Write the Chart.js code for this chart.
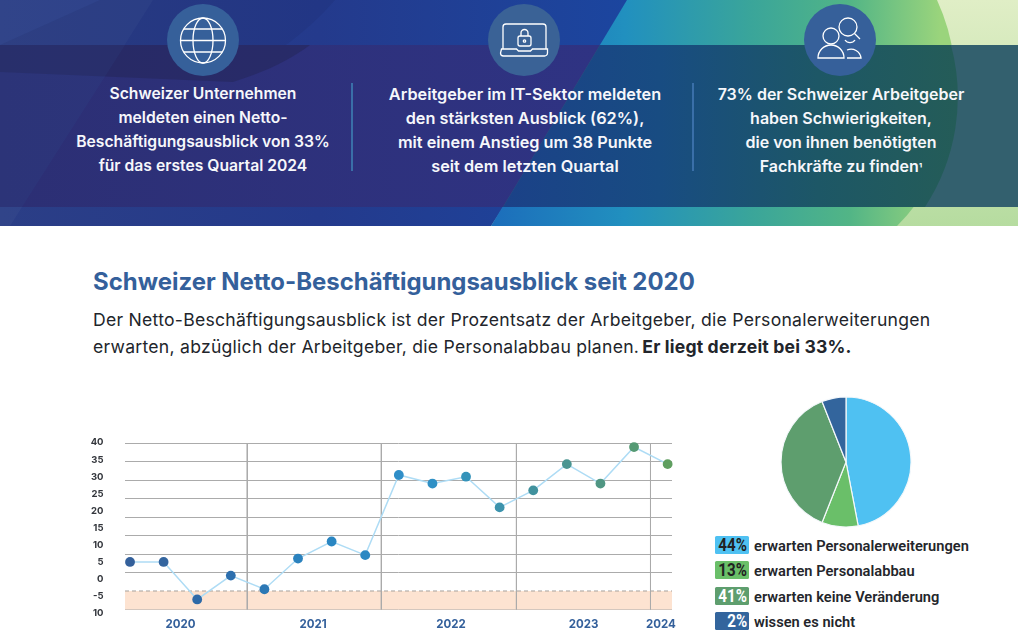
<!DOCTYPE html>
<html lang="de"><head><meta charset="utf-8">
<script src="https://cdn.jsdelivr.net/npm/chart.js@4"></script>
<style>
html,body{margin:0;padding:0;background:#fff;overflow:hidden}
body{width:1018px;height:637px;position:relative;font-family:Inter,sans-serif}
.abs{position:absolute}
#hdr{left:0;top:0}
.h{position:absolute;top:81.5px;width:320px;text-align:center;color:#f6f7fb;font:600 16px/24px Inter;white-space:nowrap}
.sep{position:absolute;top:83px;width:2px;height:88px;background:#3a6fa8}
#title{left:93px;top:267px;font:700 23.95px/30px Inter;color:#34609b;white-space:nowrap}
#body{left:93px;top:307px;font:400 17.6px/26.5px Inter;color:#22252b;white-space:nowrap;letter-spacing:.255px}
#body b{font-weight:700;letter-spacing:.17px;margin-left:-2px}
.badge{position:absolute;left:715px;width:34px;height:18px;border-radius:1.5px}
.badge span{position:absolute;right:2px;top:-1px;font:700 18.5px/20px Roboto;transform:scaleX(.82);transform-origin:right center}
.lt{position:absolute;left:754px;font:600 14.65px/18px Roboto;color:#24262b;white-space:nowrap;margin-top:1px}
</style></head><body>
<svg id="hdr" class="abs" width="1018" height="226" viewBox="0 0 1018 226">
<defs>
<linearGradient id="gBlue" x1="0" x2="1"><stop offset="0" stop-color="#2b3e86"/><stop offset=".5" stop-color="#243a8c"/><stop offset="1" stop-color="#1b46a0"/></linearGradient>
<linearGradient id="gTeal" gradientUnits="userSpaceOnUse" x1="490" x2="940" y1="0" y2="0"><stop offset="0" stop-color="#1c6dbb"/><stop offset=".3" stop-color="#2190bf"/><stop offset=".58" stop-color="#3aa59a"/><stop offset=".8" stop-color="#52b586"/><stop offset="1" stop-color="#9ad47c"/></linearGradient>
<linearGradient id="gPale" x1="0" x2="0" y1="0" y2="1"><stop offset="0" stop-color="#e0eec6"/><stop offset="1" stop-color="#b6dca0"/></linearGradient>
<linearGradient id="gBandL" x1="0" x2="1"><stop offset="0" stop-color="#2c2f74"/><stop offset="1" stop-color="#2f3383"/></linearGradient>
<linearGradient id="gBandR" gradientUnits="userSpaceOnUse" x1="500" x2="955" y1="0" y2="0"><stop offset="0" stop-color="#1b4188"/><stop offset=".35" stop-color="#184c82"/><stop offset=".7" stop-color="#1d5766"/><stop offset="1" stop-color="#245c58"/></linearGradient>
</defs>
<rect width="1018" height="226" fill="url(#gPale)"/>
<path d="M640 0H0V226H491Z" fill="url(#gBlue)"/>
<path d="M627 0L491 226H897A201 201 0 0 0 937 0Z" fill="url(#gTeal)"/>
<path d="M153 0L10 226H0V0Z" fill="#fff" opacity=".03"/>
<path d="M335 0C300 40 265 60 233 76L0 72V45L100 0Z" fill="#1a1f50" opacity=".12"/>
<rect y="45" width="1018" height="162" fill="#33606e"/>
<path d="M600 45L503 207H0V45Z" fill="url(#gBandL)"/>
<path d="M600 45L503 207H925A201 201 0 0 0 951 45Z" fill="url(#gBandR)"/>
<path d="M0 45H310C290 60 265 72 233 82L0 72Z" fill="#252659" opacity=".55"/>
<path d="M125 45L22 207H0V45Z" fill="#2f5aa0" opacity=".12"/>
<circle cx="203" cy="40" r="36" fill="#36609a"/><circle cx="524" cy="40" r="36" fill="#3a6296"/><circle cx="840" cy="40" r="36" fill="#36609a"/>
<g fill="none" stroke="#fff" stroke-width="1.3">
<circle cx="203" cy="40.500" r="22.500"/><ellipse cx="203" cy="40.500" rx="10" ry="22.500"/><path d="M180 40.500H226M184 29H222M184 52H222"/>
<path d="M503 49V27a3 3 0 0 1 3-3h37a3 3 0 0 1 3 3v22M501.500 49h15l2 2h12l2-2h15v4a3 3 0 0 1-3 3h-41a3 3 0 0 1-3-3Z"/>
<rect x="518" y="36" width="13" height="10" rx="2"/><path d="M521 36v-3a3.500 3.500 0 0 1 7 0v3"/><circle cx="524.500" cy="41" r="1.200"/>
<circle cx="831" cy="36" r="8"/><path d="M818 58a13 13 0 0 1 26 0Z"/>
<circle cx="848" cy="27" r="9"/><path d="M854.500 33.500L860 39M845 40a6 6 0 0 0 10 0M847 58h14a10 10 0 0 0-14-8"/>
</g>
</svg>
<div class="sep" style="left:351px"></div><div class="sep" style="left:692px"></div>
<div class="h" style="left:43px;font-size:15.7px">Schweizer Unternehmen<br>meldeten einen Netto-<br>Beschäftigungsausblick von 33%<br>für das erstes Quartal 2024</div>
<div class="h" style="left:365px;font-size:16.3px">Arbeitgeber im IT-Sektor meldeten<br>den stärksten Ausblick (62%),<br>mit einem Anstieg um 38 Punkte<br>seit dem letzten Quartal</div>
<div class="h" style="left:681px">73% der Schweizer Arbeitgeber<br>haben Schwierigkeiten,<br>die von ihnen benötigten<br>Fachkräfte zu finden<span style="font-size:11px">¹</span></div>
<div id="title" class="abs">Schweizer Netto-Beschäftigungsausblick seit 2020</div>
<div id="body" class="abs">Der Netto-Beschäftigungsausblick ist der Prozentsatz der Arbeitgeber, die Personalerweiterungen<br>erwarten, abzüglich der Arbeitgeber, die Personalabbau planen. <b>Er liegt derzeit bei 33%.</b></div>
<canvas id="line" class="abs" width="620" height="207" style="left:80px;top:430px"></canvas>
<canvas id="pie" class="abs" width="134" height="134" style="left:779px;top:395px"></canvas>
<div id="legend"></div>
<script>
const outlook = [5,5,-6,1,-3,6,11,7,30.5,28,30,21,26,33.7,28,38.7,33.7];
const pointColors = ['#34609b','#33659f','#2e6aa8','#2d6fae','#2c78b5','#2b82be','#2a86c2','#2b88c3','#2f8ec8','#2f90c5','#3593ba','#3c93ad','#41929e','#4a9591','#509683','#559a74','#5f9f60'];
const yTickValues = [40,35,30,25,20,15,10,5,0,-5,-10];
const yTickLabels = ['40','35','30','25','20','15','10','5','0','-5','10'];
const gridValues = [40,35,30,25,20,15,10,5,-5];
const yearPositions = [1.5,5.45,9.55,13.5,15.8];
const yearLabels = ['2020','2021','2022','2023','2024'];
const yearBoundaries = [3.49,7.48,11.5,15.49];
const pieValues = [47,9,38,6];
const pieColors = ['#4fc1f2','#6abf69','#5e9e6e','#33659d'];
const legendPercents = ['44%','13%','41%','2%'];
const legendTexts = ['erwarten Personalerweiterungen','erwarten Personalabbau','erwarten keine Veränderung','wissen es nicht'];
const legendInk = ['#222','#222','#fff','#fff'];
const legendTops = [535.5,561,586.5,612];

Chart.defaults.animation = false;
const GRID = '#ababab';
const xMin = -0.149, xMax = 16.13;
const gMin = -6.78, gMax = 42.02;

const verticals = yearBoundaries.map(b => ({
  type:'line', xAxisID:'x', yAxisID:'g', order:1, pointRadius:0, borderColor:GRID, borderWidth:1,
  data:[{x:b,y:40},{x:b,y:-5}]
}));
new Chart(document.getElementById('line'), {
  type:'line',
  data:{datasets:[
    {xAxisID:'x',yAxisID:'y',order:0,clip:false,data:outlook.map((v,i)=>({x:i,y:v})),
     borderColor:'#aedcf5',borderWidth:1.5,tension:0,pointRadius:4.9,pointHoverRadius:4.9,pointBorderWidth:0,
     pointBackgroundColor:pointColors},
    ...verticals,
    {xAxisID:'x',yAxisID:'g',order:2,pointRadius:0,borderColor:'#a5a09c',borderWidth:1,borderDash:[4,3],
     backgroundColor:'#fde3d1',fill:{value:-5},data:[{x:xMin,y:0},{x:xMax,y:0}]}
  ]},
  options:{
    responsive:false,devicePixelRatio:1,
    layout:{autoPadding:false,padding:{top:6,right:28,left:0,bottom:0}},
    plugins:{legend:{display:false},tooltip:{enabled:false}},
    events:[],
    scales:{
      x:{type:'linear',min:xMin,max:xMax,
        grid:{display:false,drawTicks:false},border:{display:false},
        afterBuildTicks:s=>{s.ticks=yearPositions.map(v=>({value:v}));},
        afterFit:s=>{s.height=21;},
        ticks:{autoSkip:false,maxRotation:0,padding:2,color:'#34609b',font:{family:'Inter',weight:'700',size:11.5},
          callback:v=>yearLabels[yearPositions.indexOf(v)]}},
      y:{type:'linear',position:'left',weight:1,min:-10.85,max:41.94,
        grid:{display:false,drawTicks:false},border:{display:false},
        afterBuildTicks:s=>{s.ticks=yTickValues.map(v=>({value:v}));},
        afterFit:s=>{s.width=23.5;},
        ticks:{autoSkip:false,padding:0,color:'#33363c',font:{family:'Inter',weight:'700',size:9.5},
          callback:v=>yTickLabels[yTickValues.indexOf(v)]}},
      g:{type:'linear',position:'left',weight:0,min:gMin,max:gMax,
        border:{display:false},
        grid:{color:GRID,lineWidth:1,drawTicks:false},
        afterBuildTicks:s=>{s.ticks=gridValues.map(v=>({value:v}));},
        afterFit:s=>{s.width=21.5;},
        ticks:{display:false}}
    }
  }
});

new Chart(document.getElementById('pie'), {
  type:'pie',
  data:{labels:legendTexts,datasets:[{data:pieValues,backgroundColor:pieColors,borderColor:'#f4f8fb',borderWidth:1.2,radius:65}]},
  options:{responsive:false,devicePixelRatio:1,layout:{padding:0},
    plugins:{legend:{display:false},tooltip:{enabled:false}},events:[]}
});

const lg = document.getElementById('legend');
legendTexts.forEach((t,i)=>{
  const b = document.createElement('div'); b.className='badge';
  b.style.top = legendTops[i]+'px'; b.style.background = pieColors[i];
  const s = document.createElement('span'); s.textContent = legendPercents[i]; s.style.color = legendInk[i];
  b.appendChild(s); lg.appendChild(b);
  const d = document.createElement('div'); d.className='lt'; d.textContent = t; d.style.top = legendTops[i]+'px';
  lg.appendChild(d);
});
</script>
</body></html>
